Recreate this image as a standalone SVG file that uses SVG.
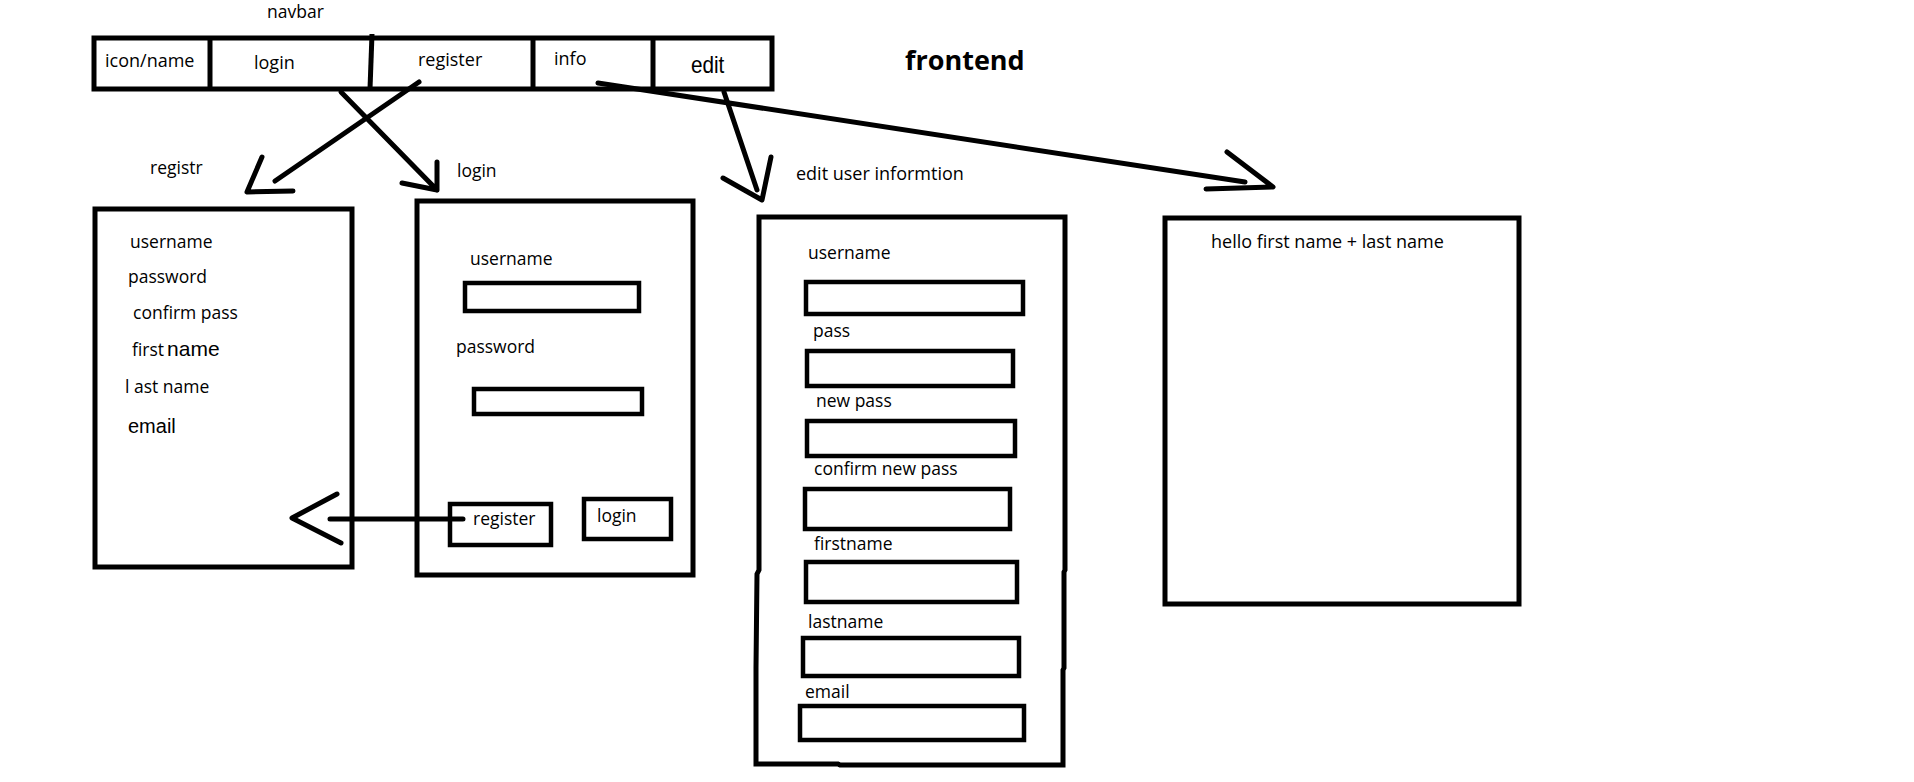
<svg xmlns="http://www.w3.org/2000/svg" width="1914" height="782" viewBox="0 0 1914 782">
<style>
.box{fill:none;stroke:#000;stroke-width:5}
.in{fill:none;stroke:#000;stroke-width:4.5}
.t{font-family:"Open Sans","Liberation Sans",sans-serif;font-size:17.5px;fill:#000}
.t18{font-size:18px}
.n{font-family:"Liberation Sans",sans-serif}
.b{font-weight:700;font-size:27px}
.c{fill:none;stroke:#000;stroke-width:5;stroke-linecap:round;stroke-linejoin:round}
</style>
<rect width="1914" height="782" fill="#fff"/>

<g id="title">
<text class="t b" x="905" y="70">frontend</text>
</g>

<g id="navbar">
<text class="t" x="267" y="18">navbar</text>
<rect class="box" x="94" y="38" width="678" height="51"/>
<line class="box" x1="210" y1="38" x2="210" y2="89"/>
<line class="box" x1="372" y1="34" x2="370" y2="89"/>
<line class="box" x1="533" y1="38" x2="533" y2="89"/>
<line class="box" x1="653" y1="38" x2="653" y2="89"/>
<text class="t t18" x="105" y="67">icon/name</text>
<text class="t t18" x="254" y="69">login</text>
<text class="t t18" x="418" y="66">register</text>
<text class="t t18" x="554" y="65">info</text>
<text class="t n" x="691" y="73" style="font-size:23px" transform="translate(691 73) scale(0.9 1) translate(-691 -73)">edit</text>
</g>

<g id="registr">
<text class="t" x="150" y="174">registr</text>
<rect class="box" x="95" y="209" width="257" height="358"/>
<text class="t" x="130" y="248">username</text>
<text class="t" x="128" y="283">password</text>
<text class="t" x="133" y="319">confirm pass</text>
<text class="t" x="132" y="356">first<tspan class="n" style="font-size:21px" dx="3">name</tspan></text>
<text class="t" x="125" y="393">l ast name</text>
<text class="t n" x="128" y="433" style="font-size:20px">email</text>
</g>

<g id="login">
<text class="t" x="457" y="177">login</text>
<rect class="box" x="417" y="201" width="276" height="374"/>
<text class="t" x="470" y="265">username</text>
<rect class="in" x="465" y="283" width="174" height="28"/>
<text class="t" x="456" y="353">password</text>
<rect class="in" x="474" y="389" width="168" height="25"/>
<rect class="in" x="450" y="504" width="101" height="41"/>
<text class="t" x="473" y="525">register</text>
<rect class="in" x="584" y="499" width="87" height="40"/>
<text class="t" x="597" y="522">login</text>
</g>

<g id="edit">
<text class="t t18" x="796" y="180">edit user informtion</text>
<path class="box" d="M759,217 L1065,217 L1065,570 L1064,572 L1064,668 L1063,670 L1063,765 L840,765 L838,764 L756,764 L756,668 L757,574 L759,570 Z"/>
<text class="t" x="808" y="259">username</text>
<rect class="in" x="806" y="282" width="217" height="32"/>
<text class="t" x="813" y="337">pass</text>
<rect class="in" x="807" y="351" width="206" height="35"/>
<text class="t" x="816" y="407">new pass</text>
<rect class="in" x="807" y="421" width="208" height="35"/>
<text class="t" x="814" y="475">confirm new pass</text>
<rect class="in" x="805" y="489" width="205" height="40"/>
<text class="t" x="814" y="550">firstname</text>
<rect class="in" x="806" y="562" width="211" height="40"/>
<text class="t" x="808" y="628">lastname</text>
<rect class="in" x="803" y="638" width="216" height="38"/>
<text class="t" x="805" y="698">email</text>
<rect class="in" x="800" y="706" width="224" height="34"/>
</g>

<g id="info">
<rect class="box" x="1165" y="218" width="354" height="386"/>
<text class="t t18" x="1211" y="248">hello first name + last name</text>
</g>

<g id="connectors">
<path class="c" d="M341,92 L437,190 M437,162 L437,190 L402,183"/>
<path class="c" d="M419,82 L275,181 M262,157 L247,192 L293,191"/>
<path class="c" d="M724,92 L757,190 M771,157 L762,200 L723,178"/>
<path class="c" d="M598,83 L1245,182 M1227,152 L1273,187 L1206,189"/>
<path class="c" d="M463,519 L330,519 M337,494 L292,518 L341,543"/>
</g>
</svg>
